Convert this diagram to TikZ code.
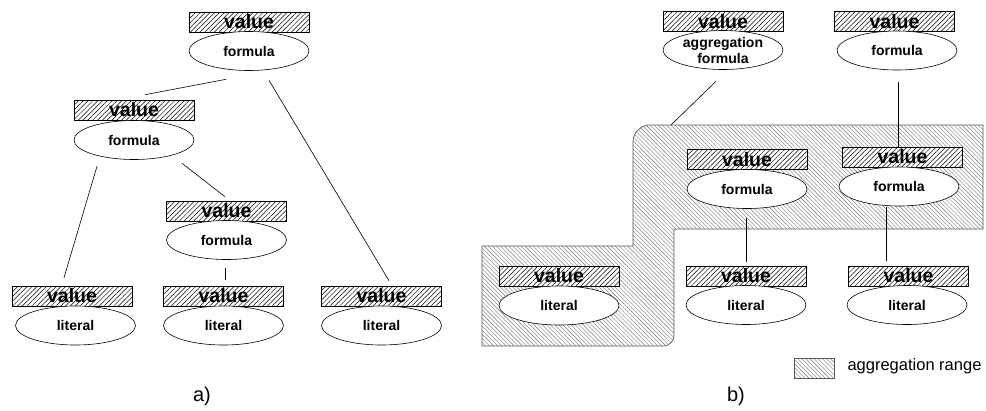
\documentclass[tikz,border=0pt]{standalone}
\usepackage{fontspec}
\setmainfont{Liberation Sans}
\usetikzlibrary{shapes.geometric,patterns.meta}
\tikzset{
  valbox/.style={draw, line width=0.6pt, preaction={fill=white},
    pattern={Lines[angle=45,distance=3.4pt,line width=0.5pt]},
    minimum width=120pt, minimum height=20pt, inner sep=0pt,
    font=\fontsize{19.5}{20}\selectfont\bfseries},
  ell/.style={draw, ellipse, fill=white, line width=0.6pt,
    minimum width=120pt, minimum height=39pt, inner sep=0pt,
    font=\fontsize{14}{16}\selectfont\bfseries, align=center},
  rangefill/.style={draw=black!65, line width=0.7pt,
    pattern={Lines[angle=-45,distance=2.9pt,line width=0.4pt]}, pattern color=black!55},
  conn/.style={line width=0.6pt},
  lbl/.style={font=\fontsize{20}{22}\selectfont}
}
\begin{document}
\begin{tikzpicture}[x=1pt,y=-1pt]
\useasboundingbox (0,0) rectangle (986,410);
% ---------- a) ----------
\node[valbox] (va1) at (249,22) {value};
\node[ell] (fa1) at (249,51) {formula};
\node[valbox] (va2) at (134,110) {value};
\node[ell] (fa2) at (134,140) {formula};
\node[valbox] (va3) at (226.5,211) {value};
\node[ell] (fa3) at (226.5,240) {formula};
\node[valbox] (vb1) at (72,296) {value};
\node[ell] (lb1) at (75.5,325.5) {literal};
\node[valbox] (vb2) at (223.5,296) {value};
\node[ell] (lb2) at (223.5,325.5) {literal};
\node[valbox] (vb3) at (381.5,296) {value};
\node[ell] (lb3) at (381.5,325.5) {literal};
\draw[conn] ([shift={(-23,8.5)}]fa1.south) -- ([shift={(11,-5)}]va2.north);
\draw[conn] ([shift={(20,9.5)}]fa1.south) -- ([shift={(7.5,-5)}]vb3.north);
\draw[conn] ([shift={(-37,6.5)}]fa2.south) -- ([shift={(-8,-8)}]vb1.north);
\draw[conn] ([shift={(48,3.5)}]fa2.south) -- ([shift={(-1.5,-4)}]va3.north);
\draw[conn] ([shift={(-1.5,8.5)}]fa3.south) -- ([shift={(1.5,-6)}]vb2.north);
\node[lbl] (la) at (202,396) {a)};
% ---------- b) ----------
\draw[rangefill] (633,246) -- (482,246) -- (482,346) -- (664,346)
  .. controls (669.5,346) and (674,340.5) .. (674,336) -- (674,229) -- (983,229) -- (983,125)
  -- (650,125) .. controls (640.6,125) and (633,132.6) .. (633,142) -- cycle;
\coordinate (rtop) at (671,125);
\node[valbox] (vt1) at (723,21.5) {value};
\node[ell] (ft1) at (723,50) {aggregation\\formula};
\node[valbox] (vt2) at (894.5,21.5) {value};
\node[ell] (ft2) at (897,50.5) {formula};
\node[valbox] (vm1) at (747,159.5) {value};
\node[ell] (fm1) at (747,189) {formula};
\node[valbox] (vm2) at (902.5,157) {value};
\node[ell] (fm2) at (899,186.5) {formula};
\node[valbox] (vl1) at (559,276) {value};
\node[ell] (ll1) at (559,305.5) {literal};
\node[valbox] (vl2) at (746,276) {value};
\node[ell] (ll2) at (746,305) {literal};
\node[valbox] (vl3) at (908.5,276) {value};
\node[ell] (ll3) at (907,305) {literal};
\draw[conn] ([shift={(-7,11.5)}]ft1.south) -- (rtop);
\draw[conn] ([shift={(1,12)}]ft2.south) -- ([shift={(-4.5,0)}]vm2.north);
\draw[conn] ([shift={(-1,9)}]fm1.south) -- ([shift={(0,-4)}]vl2.north);
\draw[conn] ([shift={(-13,0.5)}]fm2.south) -- ([shift={(-22.5,-5)}]vl3.north);
% legend
\path[rangefill] (794,358) rectangle (834,378);
\node[anchor=west, font=\fontsize{16.5}{18}\selectfont] (leg) at (844,366.5) {aggregation range};
\node[lbl] (lbb) at (736,396) {b)};
\end{tikzpicture}
\end{document}
